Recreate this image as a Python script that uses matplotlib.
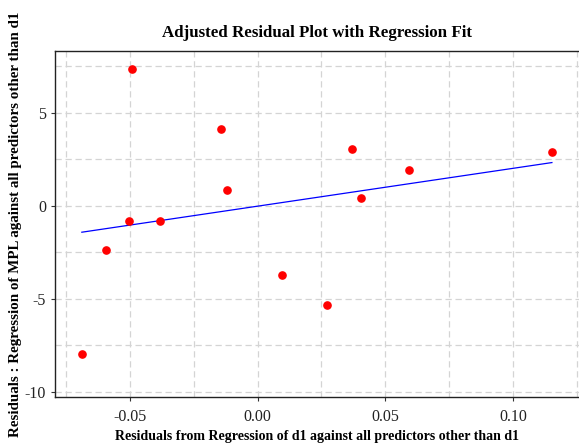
import matplotlib

matplotlib.use("Agg")
import matplotlib.pyplot as plt
import numpy as np
from matplotlib.ticker import MultipleLocator

# Residuals of d1 vs. residuals of MPL
x_resid = [-0.0688, -0.0594, -0.0504, -0.0383, -0.0492, -0.0145, -0.0121,
           0.0094, 0.0273, 0.0371, 0.0406, 0.0594, 0.1152]
y_resid = [-7.96, -2.37, -0.80, -0.80, 7.37, 4.14, 0.86,
           -3.71, -5.32, 3.06, 0.43, 1.94, 2.90]

title = "Adjusted Residual Plot with Regression Fit"
xlabel = "Residuals from Regression of d1 against all predictors other than d1"
ylabel = "Residuals : Regression of MPL against all predictors other than d1"

plt.rcParams["font.family"] = ["Liberation Serif", "DejaVu Serif"]

fig = plt.figure(figsize=(5.79, 4.47), dpi=100)
ax = fig.add_axes([0.095, 0.112, 0.905, 0.774])

x = np.array(x_resid)
y = np.array(y_resid)
slope, intercept = np.polyfit(x, y, 1)
xs = np.array([x.min(), x.max()])
ax.plot(xs, slope * xs + intercept, color="#0000ff", lw=0.9, zorder=2)
ax.plot(x, y, "o", color="#ff0000", ms=5.2, zorder=3)

ax.set_xlim(-0.0793, 0.1258)
ax.set_ylim(-10.27, 8.33)
ax.xaxis.set_major_locator(MultipleLocator(0.05))
ax.xaxis.set_minor_locator(MultipleLocator(0.025))
ax.yaxis.set_major_locator(MultipleLocator(5))
ax.yaxis.set_minor_locator(MultipleLocator(2.5))
ax.xaxis.set_major_formatter(plt.FuncFormatter(lambda v, _: f"{v:.2f}"))
ax.yaxis.set_major_formatter(plt.FuncFormatter(lambda v, _: f"{v:.0f}"))

ax.grid(True, which="both", color="#d4d4d4", linestyle=(0, (5, 3)), lw=0.9)
ax.set_axisbelow(True)
ax.tick_params(which="minor", length=0)
ax.tick_params(which="major", length=3, labelsize=11.5, color="#333333",
               labelcolor="#222222")
ax.tick_params(axis="x", pad=6)
for side in ("left", "bottom", "top"):
    ax.spines[side].set_color("#222222")
    ax.spines[side].set_linewidth(1.0)
ax.spines["right"].set_visible(False)

ax.set_title(title, fontsize=12.2, fontweight="bold", pad=10)
ax.set_xlabel(xlabel, fontsize=10, fontweight="bold", labelpad=3)
ax.set_ylabel(ylabel, fontsize=10.8, fontweight="bold", labelpad=2)

fig.savefig("out.png", dpi=100)
